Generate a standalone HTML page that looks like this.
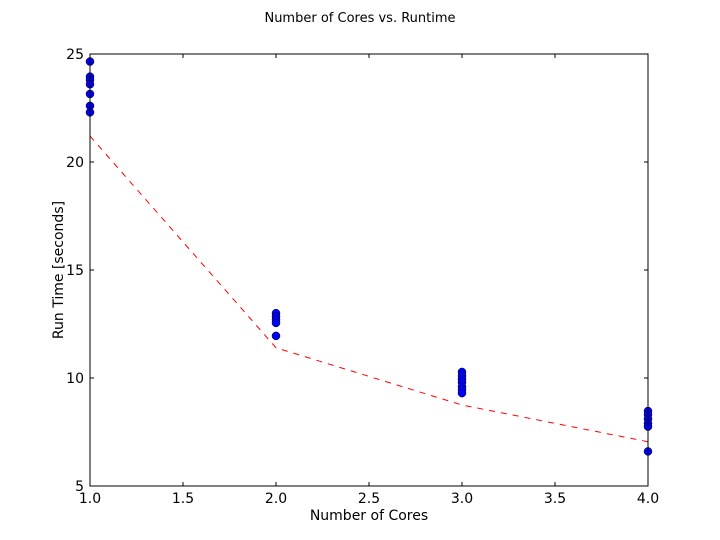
<!DOCTYPE html>
<html><head><meta charset="utf-8"><style>
body{margin:0;background:#fff;}
svg{display:block;font-family:"DejaVu Sans","Liberation Sans",sans-serif;}
</style></head><body>
<svg id="chart" width="720" height="540">
<rect width="720" height="540" fill="#fff"/>
<text x="360" y="22" font-size="13" text-anchor="middle">Number of Cores vs. Runtime</text>
<text x="369" y="520" font-size="14" text-anchor="middle">Number of Cores</text>
<text transform="translate(63,270) rotate(-90)" font-size="14" text-anchor="middle">Run Time [seconds]</text>
<g id="ticks"></g>
<g id="marks"></g>
<rect x="90" y="54" width="558" height="432" fill="none" stroke="#000" stroke-width="1"/>
</svg>
<script>
const xTicks=[1.0,1.5,2.0,2.5,3.0,3.5,4.0];
const yTicks=[5,10,15,20,25];
const cores1=[24.65,23.95,23.8,23.6,23.15,22.6,22.3];
const cores2=[13.0,12.85,12.7,12.55,11.95];
const cores3=[10.28,10.1,9.95,9.8,9.6,9.45,9.3];
const cores4=[8.47,8.3,8.1,7.9,7.75,6.6];
const fitX=[1,2,3,4];
const fitY=[21.2,11.4,8.75,7.05];
const X=v=>90+(v-1)/3*558;
const Y=v=>486-(v-5)/20*432;
const NS='http://www.w3.org/2000/svg';
const tg=document.getElementById('ticks'),mg=document.getElementById('marks');
function el(t,a,p){const e=document.createElementNS(NS,t);for(const k in a)e.setAttribute(k,a[k]);p.appendChild(e);return e;}
xTicks.forEach(v=>{
 el('line',{x1:X(v),x2:X(v),y1:486,y2:482,stroke:'#000'},tg);
 el('line',{x1:X(v),x2:X(v),y1:54,y2:58,stroke:'#000'},tg);
 const t=el('text',{x:X(v),y:503,'font-size':14,'text-anchor':'middle'},tg);t.textContent=v.toFixed(1);
 
 
});
yTicks.forEach(v=>{
 el('line',{x1:90,x2:94,y1:Y(v),y2:Y(v),stroke:'#000'},tg);
 el('line',{x1:648,x2:644,y1:Y(v),y2:Y(v),stroke:'#000'},tg);
 const t=el('text',{x:84,y:Y(v)+5,'font-size':14,'text-anchor':'end'},tg);t.textContent=v;
 
 
});
const fit=el('polyline',{points:fitX.map((x,i)=>X(x)+','+Y(fitY[i])).join(' '),fill:'none',stroke:'#f00','stroke-dasharray':'6,6'},mg);


[[1,cores1],[2,cores2],[3,cores3],[4,cores4]].forEach(([c,arr])=>{
 arr.forEach(v=>{
  const p=el('circle',{cx:X(c),cy:Y(v),r:4,fill:'#0000ff',stroke:'#000','stroke-width':0.5},mg);
  
  
 });
});
</script>
</body></html>
